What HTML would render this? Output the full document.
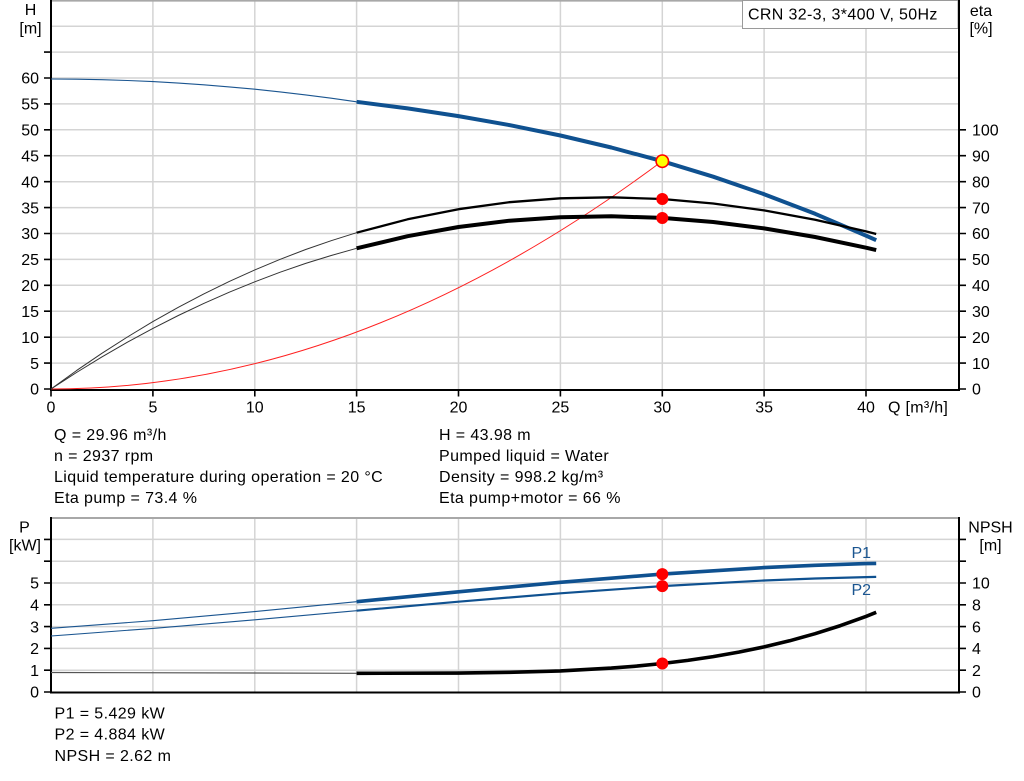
<!DOCTYPE html>
<html><head><meta charset="utf-8"><style>
html,body{margin:0;padding:0;background:#fff;}
svg{display:block;}
text{font-family:"Liberation Sans",Arial,sans-serif;font-size:16px;fill:#000;}
.t{letter-spacing:0.4px;}
</style></head><body>
<svg width="1024" height="781" viewBox="0 0 1024 781" xmlns="http://www.w3.org/2000/svg">
<rect width="1024" height="781" fill="#fff"/>
<!-- TOP CHART GRID -->
<g stroke="#d4d4d4" stroke-width="1.5" fill="none">
<path d="M52 363.1H958M52 337.2H958M52 311.2H958M52 285.3H958M52 259.4H958M52 233.5H958M52 207.6H958M52 181.7H958M52 155.7H958M52 129.8H958M52 103.9H958M52 78H958M52 52.1H958M52 26.2H958"/>
<path d="M152.9 1V389M254.8 1V389M356.6 1V389M458.5 1V389M560.4 1V389M662.3 1V389M764.1 1V389M866 1V389"/>
</g>
<path d="M51 0.8H958" stroke="#a8a8a8" stroke-width="1.6"/>
<!-- legend box -->
<rect x="742.5" y="0.5" width="215.5" height="28" fill="#fff" stroke="#9a9a9a" stroke-width="1"/>
<text x="748" y="19.5" class="t" style="letter-spacing:0.35px">CRN 32-3, 3*400 V, 50Hz</text>
<!-- axes top -->
<g stroke="#000" stroke-width="2" fill="none">
<path d="M51 0V390.5M959 0V390.5M50 390H960"/>
</g>
<g stroke="#000" stroke-width="1.6">
<path d="M44 389H51M44 363.1H51M44 337.2H51M44 311.2H51M44 285.3H51M44 259.4H51M44 233.5H51M44 207.6H51M44 181.7H51M44 155.7H51M44 129.8H51M44 103.9H51M44 78H51M44 52.1H51"/>
<path d="M959 389H966M959 363.1H966M959 337.2H966M959 311.2H966M959 285.3H966M959 259.4H966M959 233.5H966M959 207.6H966M959 181.7H966M959 155.7H966M959 129.8H966"/>
<path d="M51 390V396.5M152.9 390V396.5M254.8 390V396.5M356.6 390V396.5M458.5 390V396.5M560.4 390V396.5M662.3 390V396.5M764.1 390V396.5M866 390V396.5"/>
</g>
<!-- top left labels -->
<g text-anchor="end">
<text x="39" y="394.7">0</text>
<text x="39" y="368.8">5</text>
<text x="39" y="342.9">10</text>
<text x="39" y="316.9">15</text>
<text x="39" y="291">20</text>
<text x="39" y="265.1">25</text>
<text x="39" y="239.2">30</text>
<text x="39" y="213.3">35</text>
<text x="39" y="187.4">40</text>
<text x="39" y="161.4">45</text>
<text x="39" y="135.5">50</text>
<text x="39" y="109.6">55</text>
<text x="39" y="83.7">60</text>
</g>
<g>
<text x="972" y="394.7">0</text>
<text x="972" y="368.8">10</text>
<text x="972" y="342.9">20</text>
<text x="972" y="316.9">30</text>
<text x="972" y="291">40</text>
<text x="972" y="265.1">50</text>
<text x="972" y="239.2">60</text>
<text x="972" y="213.3">70</text>
<text x="972" y="187.4">80</text>
<text x="972" y="161.4">90</text>
<text x="972" y="135.5">100</text>
</g>
<g text-anchor="middle">
<text x="51" y="412.7">0</text>
<text x="152.9" y="412.7">5</text>
<text x="254.8" y="412.7">10</text>
<text x="356.6" y="412.7">15</text>
<text x="458.5" y="412.7">20</text>
<text x="560.4" y="412.7">25</text>
<text x="662.3" y="412.7">30</text>
<text x="764.1" y="412.7">35</text>
<text x="866" y="412.7">40</text>
<text x="30.5" y="15">H</text>
<text x="30.5" y="33.6">[m]</text>
<text x="981" y="16">eta</text>
<text x="981" y="33.6">[%]</text>
</g>
<text x="888" y="412.7" class="t" style="letter-spacing:0.3px">Q [m³/h]</text>
<!-- TOP CURVES -->
<g fill="none" stroke-linejoin="round" stroke-linecap="butt">
<path d="M51 389Q356.65 389 662.3 161" stroke="#ff2020" stroke-width="1"/>
<polyline points="51,79 76.5,79.2 101.9,79.7 127.4,80.5 152.9,81.6 178.3,83.1 203.8,84.8 229.3,86.9 254.8,89.2 280.2,91.9 305.7,94.9 331.2,98.2 356.6,101.8" stroke="#1a5590" stroke-width="1.1"/>
<polyline points="356.6,101.8 407.6,108.4 458.5,116.1 509.4,125.1 560.4,135.5 611.3,147.5 662.3,161.2 713.2,176.7 764.1,194.2 815.1,213.8 866,235.6 876.2,240.2" stroke="#0f5190" stroke-width="4"/>
<polyline points="51,389 76.5,370.6 101.9,353.3 127.4,337 152.9,321.6 178.3,307.3 203.8,293.9 229.3,281.4 254.8,269.9 280.2,259.3 305.7,249.5 331.2,240.7 356.6,232.7" stroke="#333" stroke-width="1"/>
<polyline points="356.6,232.7 407.6,219.3 458.5,209.2 509.4,202.2 560.4,198.3 611.3,197.3 662.3,199 713.2,203.5 764.1,210.4 815.1,219.8 866,231.4 876.2,234" stroke="#000" stroke-width="2.3"/>
<polyline points="51,389 76.5,372.5 101.9,356.9 127.4,342.2 152.9,328.4 178.3,315.5 203.8,303.4 229.3,292.2 254.8,281.8 280.2,272.2 305.7,263.4 331.2,255.5 356.6,248.3" stroke="#333" stroke-width="1"/>
<polyline points="356.6,248.3 407.6,236.2 458.5,227 509.4,220.7 560.4,217.2 611.3,216.3 662.3,217.9 713.2,222 764.1,228.4 815.1,237 866,247.7 876.2,250.1" stroke="#000" stroke-width="4"/>
</g>
<circle cx="662.3" cy="199" r="6" fill="#ff0000"/>
<circle cx="662.3" cy="218" r="6" fill="#ff0000"/>
<circle cx="662.3" cy="161.2" r="6.2" fill="#ffff00" stroke="#ff0000" stroke-width="1.6"/>
<!-- TEXT BLOCK -->
<g class="t">
<text x="54" y="440">Q = 29.96 m³/h</text>
<text x="54" y="461">n = 2937 rpm</text>
<text x="54" y="482">Liquid temperature during operation = 20 °C</text>
<text x="54" y="503">Eta pump = 73.4 %</text>
<text x="439" y="440">H = 43.98 m</text>
<text x="439" y="461">Pumped liquid = Water</text>
<text x="439" y="482">Density = 998.2 kg/m³</text>
<text x="439" y="503">Eta pump+motor = 66 %</text>
</g>
<!-- BOTTOM CHART GRID -->
<g stroke="#d4d4d4" stroke-width="1.5" fill="none">
<path d="M52 670.2H958M52 648.4H958M52 626.6H958M52 604.8H958M52 583H958M52 561.2H958M52 539.4H958"/>
<path d="M152.9 519V692M254.8 519V692M356.6 519V692M458.5 519V692M560.4 519V692M662.3 519V692M764.1 519V692M866 519V692"/>
</g>
<path d="M51 518H958" stroke="#a8a8a8" stroke-width="2"/>
<g stroke="#000" stroke-width="2" fill="none">
<path d="M51 517V693.5M959 517V693.5M50 692.5H960"/>
</g>
<g stroke="#000" stroke-width="1.6">
<path d="M44 692H51M44 670.2H51M44 648.4H51M44 626.6H51M44 604.8H51M44 583H51M44 561.2H51M44 539.4H51"/>
<path d="M959 692H966M959 670.2H966M959 648.4H966M959 626.6H966M959 604.8H966M959 583H966M959 561.2H966M959 539.4H966"/>
</g>
<g text-anchor="end">
<text x="39" y="697.7">0</text>
<text x="39" y="675.9">1</text>
<text x="39" y="654.1">2</text>
<text x="39" y="632.3">3</text>
<text x="39" y="610.5">4</text>
<text x="39" y="588.7">5</text>
</g>
<g>
<text x="972" y="697.7">0</text>
<text x="972" y="675.9">2</text>
<text x="972" y="654.1">4</text>
<text x="972" y="632.3">6</text>
<text x="972" y="610.5">8</text>
<text x="972" y="588.7">10</text>
</g>
<g text-anchor="middle">
<text x="24.5" y="532.7">P</text>
<text x="25" y="550.6">[kW]</text>
<text x="990.5" y="532.7">NPSH</text>
<text x="990.5" y="550.6">[m]</text>
</g>
<text x="851.5" y="558" style="fill:#1a5590">P1</text>
<text x="851.5" y="595" style="fill:#1a5590">P2</text>
<!-- BOTTOM CURVES -->
<g fill="none" stroke-linejoin="round">
<polyline points="51,672.5 356.6,673.3" stroke="#555" stroke-width="1.2"/>
<polyline points="356.6,673.3 458.5,673.1 509.4,672.3 560.4,670.9 611.3,668.1 636.8,666.1 662.3,663.5 687.8,660.4 713.2,656.6 738.7,652.1 764.1,646.9 789.6,640.8 815.1,633.7 840.5,625.6 866,616.4 876.2,612.3" stroke="#000" stroke-width="3.6"/>
<polyline points="51,628.3 152.9,620.7 254.8,611.6 356.6,601.7" stroke="#1a5590" stroke-width="1.1"/>
<polyline points="356.6,601.7 458.5,591.8 560.4,582.3 662.3,574.1 764.1,567.6 815.1,565.3 866,563.6 876.2,563.4" stroke="#0f5190" stroke-width="3.6"/>
<polyline points="51,636 152.9,628.4 254.8,619.8 356.6,610.7" stroke="#1a5590" stroke-width="1.1"/>
<polyline points="356.6,610.7 458.5,601.7 560.4,593.3 662.3,586.1 764.1,580.5 815.1,578.5 866,577.1 876.2,576.9" stroke="#0f5190" stroke-width="2.2"/>
</g>
<circle cx="662.3" cy="574.1" r="6" fill="#ff0000"/>
<circle cx="662.3" cy="586.1" r="6" fill="#ff0000"/>
<circle cx="662.3" cy="663.5" r="6" fill="#ff0000"/>
<g class="t">
<text x="54.5" y="718.5">P1 = 5.429 kW</text>
<text x="54.5" y="739.7">P2 = 4.884 kW</text>
<text x="54.5" y="761">NPSH = 2.62 m</text>
</g>
</svg>
</body></html>
